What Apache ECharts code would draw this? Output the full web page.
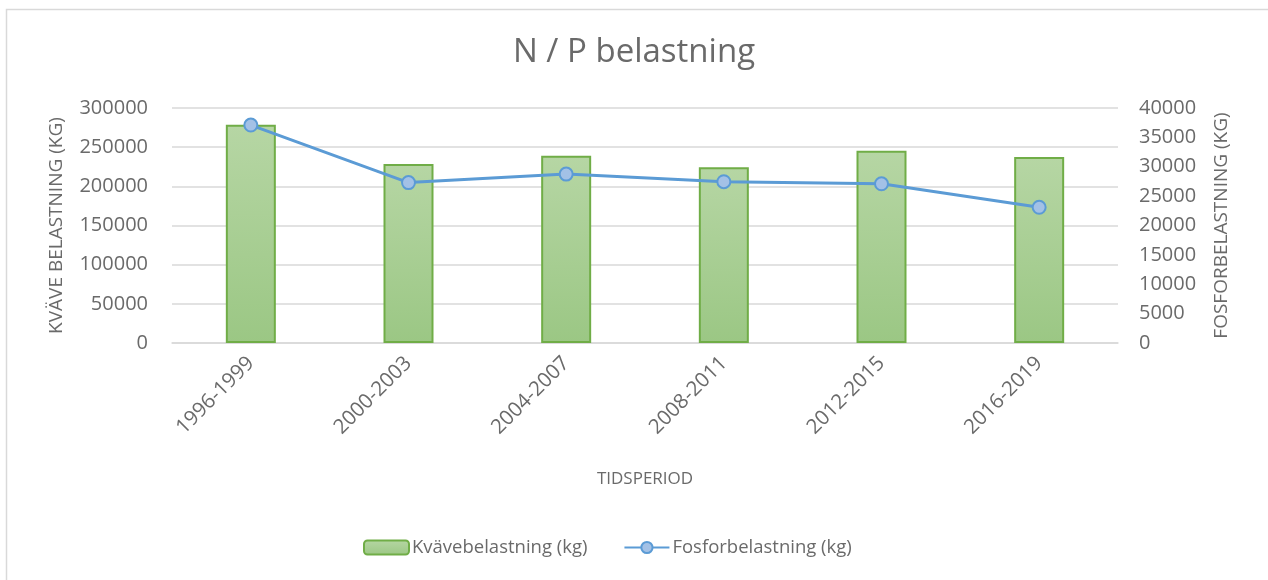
<!DOCTYPE html>
<html>
<head>
<meta charset="utf-8">
<script src="https://cdn.jsdelivr.net/npm/echarts@6/dist/echarts.min.js"></script>
<style>
html,body{margin:0;padding:0;background:#fff;}
#main{width:1268px;height:580px;}
</style>
</head>
<body>
<div id="main"></div>
<script>
var categories = ['1996-1999','2000-2003','2004-2007','2008-2011','2012-2015','2016-2019'];
var kvave = [278500, 228500, 239000, 224500, 245500, 237500];
var fosfor = [37100, 27300, 28750, 27450, 27100, 23100];
var leftTicks = {min:0, max:300000, interval:50000};
var rightTicks = {min:0, max:40000, interval:5000};

var font = 'Open Sans';
var grey = '#6a6a6a';
var plain = function(v){ return String(v); };
var chart = echarts.init(document.getElementById('main'));
chart.setOption({
  animation:false,
  backgroundColor:'#fff',
  graphic:[{type:'rect',shape:{x:6.5,y:9.5,width:1400,height:700},style:{fill:'none',stroke:'#d9d9d9',lineWidth:1.5},silent:true}],
  title:{text:'N / P belastning',left:'center',top:31,textStyle:{fontFamily:font,fontSize:33,fontWeight:'normal',color:grey}},
  grid:{left:172,right:150,top:108,bottom:237},
  legend:{bottom:18,left:358,itemWidth:45,itemHeight:14,itemGap:36,
    textStyle:{fontFamily:font,fontSize:18.5,color:grey,padding:[0,0,0,-2]},
    data:['Kvävebelastning (kg)','Fosforbelastning (kg)']},
  xAxis:{type:'category',data:categories,
    axisLine:{lineStyle:{color:'#d9d9d9',width:1.5}},axisTick:{show:false},
    axisLabel:{rotate:45,interval:0,fontFamily:font,fontSize:20.5,color:grey,margin:17},
    name:'TIDSPERIOD',nameLocation:'middle',nameGap:128,
    nameTextStyle:{fontFamily:font,fontSize:17,color:grey}},
  yAxis:[{type:'value',min:leftTicks.min,max:leftTicks.max,interval:leftTicks.interval,
    axisLine:{show:false},axisTick:{show:false},
    splitLine:{lineStyle:{color:'#d9d9d9',width:1.5}},
    axisLabel:{fontFamily:font,fontSize:20,color:grey,margin:24,formatter:plain},
    name:'KVÄVE BELASTNING (KG)',nameLocation:'middle',nameGap:106,
    nameTextStyle:{fontFamily:font,fontSize:19,color:grey}},
   {type:'value',min:rightTicks.min,max:rightTicks.max,interval:rightTicks.interval,
    axisLine:{show:false},axisTick:{show:false},splitLine:{show:false},
    axisLabel:{fontFamily:font,fontSize:20,color:grey,margin:21,formatter:plain},
    name:'FOSFORBELASTNING (KG)',nameLocation:'middle',nameGap:94,
    nameTextStyle:{fontFamily:font,fontSize:19,color:grey}}],
  series:[{name:'Kvävebelastning (kg)',type:'bar',data:kvave,barWidth:50,yAxisIndex:0,
    itemStyle:{color:new echarts.graphic.LinearGradient(0,0,0,1,[{offset:0,color:'#b6d6a4'},{offset:1,color:'#9bc784'}]),
      borderColor:'#70ad47',borderWidth:2}},
   {name:'Fosforbelastning (kg)',type:'line',data:fosfor,yAxisIndex:1,
    symbol:'circle',symbolSize:13,
    lineStyle:{color:'#5b9bd5',width:3},
    itemStyle:{color:'#a3c1e6',borderColor:'#5b9bd5',borderWidth:2}}]
});
</script>
</body>
</html>
